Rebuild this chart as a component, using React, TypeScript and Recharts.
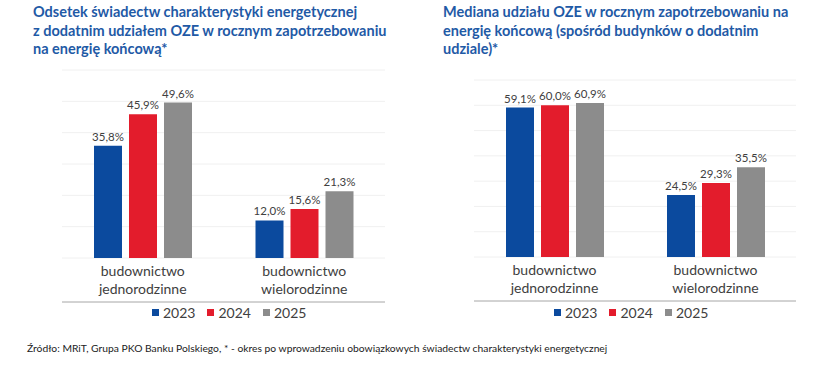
import React from 'react';
import { BarChart, Bar, XAxis, YAxis, CartesianGrid, LabelList, Legend } from 'recharts';

const categories = ['budownictwo jednorodzinne', 'budownictwo wielorodzinne'];
const years = ['2023', '2024', '2025'];
const leftValues2023 = [35.8, 12.0];
const leftValues2024 = [45.9, 15.6];
const leftValues2025 = [49.6, 21.3];
const rightValues2023 = [59.1, 24.5];
const rightValues2024 = [60.0, 29.3];
const rightValues2025 = [60.9, 35.5];
const leftTicks = [0, 10, 20, 30, 40, 50, 60];
const rightTicks = [0, 10, 20, 30, 40, 50, 60, 70];
const leftTitle = ['Odsetek świadectw charakterystyki energetycznej', 'z dodatnim udziałem OZE w rocznym zapotrzebowaniu', 'na energię końcową*'];
const rightTitle = ['Mediana udziału OZE w rocznym zapotrzebowaniu na', 'energię końcową (spośród budynków o dodatnim', 'udziale)*'];
const footnote = 'Źródło: MRiT, Grupa PKO Banku Polskiego, * - okres po wprowadzeniu obowiązkowych świadectw charakterystyki energetycznej';

const COLORS = ['#0b4a9e', '#e31c2c', '#8c8c8c'];
const TEXT = '#404040';
const FONT = 'Lato, "Liberation Sans", sans-serif';

const build = (a: number[], b: number[], c: number[]) =>
  categories.map((name, i) => ({ name, y2023: a[i], y2024: b[i], y2025: c[i] }));

const leftData = build(leftValues2023, leftValues2024, leftValues2025);
const rightData = build(rightValues2023, rightValues2024, rightValues2025);

const fmt = (v: any) => `${Number(v).toFixed(1).replace('.', ',')}%`;

const CatTick = (props: any) => {
  const { x, y, payload } = props;
  const words = String(payload.value).split(' ');
  return (
    <text x={x} y={y} textAnchor="middle" fill={TEXT} fontSize={14} fontFamily={FONT}>
      {words.map((w, i) => (
        <tspan key={i} x={x} dy={i === 0 ? 18 : 17.5}>{w}</tspan>
      ))}
    </text>
  );
};

const LegendContent = () => (
  <div style={{ display: 'flex', alignItems: 'center', fontFamily: FONT, fontSize: 14, color: TEXT, whiteSpace: 'nowrap' }}>
    {years.map((y, i) => (
      <div key={y} style={{ display: 'flex', alignItems: 'center', marginRight: 12 }}>
        <span style={{ display: 'inline-block', width: 7, height: 7, background: COLORS[i], marginRight: 4 }} />
        <span>{y}</span>
      </div>
    ))}
  </div>
);

type PanelProps = {
  data: any[];
  ticks: number[];
  margin: { top: number; right: number; bottom: number; left: number };
  legendLeft: number;
  legendTop: number;
};

const Panel = ({ data, ticks, margin, legendLeft, legendTop }: PanelProps) => (
  <BarChart width={420} height={340} data={data} margin={margin} barGap={7} barSize={28}>
    <CartesianGrid vertical={false} stroke="#f0f0f0" yAxisId="v" xAxisId="cat" />
    <XAxis
      xAxisId="frame"
      type="number"
      domain={[0, 2]}
      ticks={[0, 1, 2]}
      allowDataOverflow
      tick={false}
      tickSize={5}
      height={6}
      stroke="#a6a6a6"
    />
    <XAxis
      xAxisId="cat"
      dataKey="name"
      axisLine={false}
      tickLine={false}
      tickSize={0}
      tickMargin={0}
      height={44}
      interval={0}
      tick={<CatTick />}
    />
    <YAxis yAxisId="v" hide domain={[ticks[0], ticks[ticks.length - 1]]} ticks={ticks} />
    <Legend
      layout="horizontal"
      verticalAlign="middle"
      align="center"
      content={<LegendContent />}
      wrapperStyle={{ left: legendLeft, top: legendTop, width: 'auto' }}
    />
    {years.map((y, i) => (
      <Bar key={y} dataKey={`y${y}`} xAxisId="cat" yAxisId="v" fill={COLORS[i]} isAnimationActive={false}>
        <LabelList dataKey={`y${y}`} position="top" offset={5} formatter={fmt} fill={TEXT} fontSize={11.5} fontFamily={FONT} />
      </Bar>
    ))}
  </BarChart>
);

const Title = ({ lines, left }: { lines: string[]; left: number }) => (
  <div style={{ position: 'absolute', left, top: 3, fontFamily: FONT, fontWeight: 700, fontSize: 14.5, lineHeight: '18.5px', color: '#1f5aa6', whiteSpace: 'nowrap' }}>
    {lines.map((l, i) => <div key={i}>{l}</div>)}
  </div>
);

export default function App() {
  return (
    <div style={{ position: 'absolute', left: 0, top: 0, width: 837, height: 367, background: '#fff', overflow: 'hidden' }}>
      <Title lines={leftTitle} left={33} />
      <Title lines={rightTitle} left={443} />
      <div style={{ position: 'absolute', left: 0, top: 0 }}>
        <Panel data={leftData} ticks={leftTicks} margin={{ top: 70, right: 35, bottom: 32, left: 62 }} legendLeft={152} legendTop={304} />
      </div>
      <div style={{ position: 'absolute', left: 420, top: 0 }}>
        <Panel data={rightData} ticks={rightTicks} margin={{ top: 80, right: 44, bottom: 33, left: 54 }} legendLeft={134} legendTop={304} />
      </div>
      <div style={{ position: 'absolute', left: 27, top: 342, fontFamily: FONT, fontSize: 10.3, color: '#222', whiteSpace: 'nowrap' }}>
        {footnote}
      </div>
    </div>
  );
}
